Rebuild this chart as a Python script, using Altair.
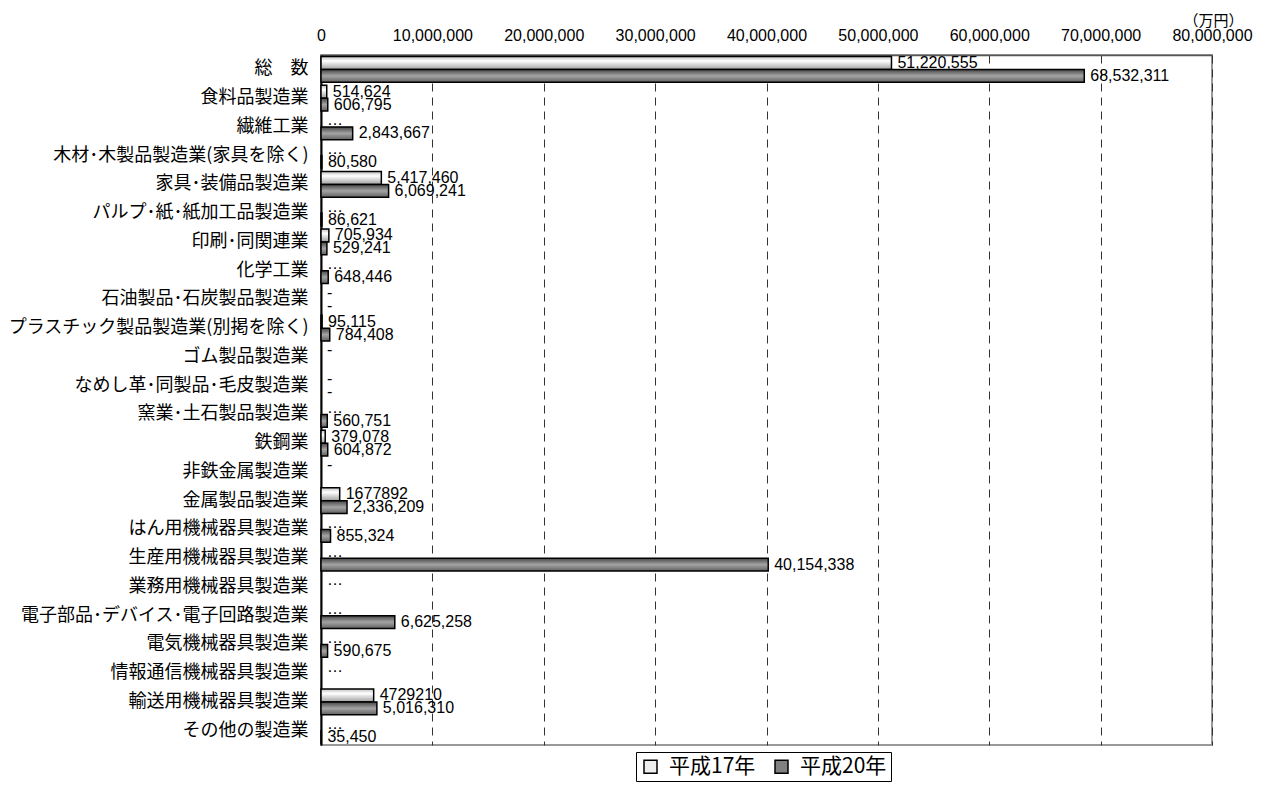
import altair as alt
import pandas as pd

categories = [
    "総　数", "食料品製造業", "繊維工業", "木材･木製品製造業(家具を除く)",
    "家具･装備品製造業", "パルプ･紙･紙加工品製造業", "印刷･同関連業", "化学工業",
    "石油製品･石炭製品製造業", "プラスチック製品製造業(別掲を除く)", "ゴム製品製造業",
    "なめし革･同製品･毛皮製造業", "窯業･土石製品製造業", "鉄鋼業", "非鉄金属製造業",
    "金属製品製造業", "はん用機械器具製造業", "生産用機械器具製造業", "業務用機械器具製造業",
    "電子部品･デバイス･電子回路製造業", "電気機械器具製造業", "情報通信機械器具製造業",
    "輸送用機械器具製造業", "その他の製造業",
]
series = ["平成17年", "平成20年"]

h17_values = [51220555, 514624, None, None, 5417460, None, 705934, None, None, 95115,
              None, None, None, 379078, None, 1677892, None, None, None, None, None, None,
              4729210, None]
h17_labels = ["51,220,555", "514,624", "…", "…", "5,417,460", "…", "705,934", "…", "-",
              "95,115", "-", "-", "…", "379,078", "-", "1677892", "…", "…", "…", "…", "…",
              "…", "4729210", "…"]
h20_values = [68532311, 606795, 2843667, 80580, 6069241, 86621, 529241, 648446, None,
              784408, None, None, 560751, 604872, None, 2336209, 855324, 40154338, None,
              6625258, 590675, None, 5016310, 35450]
h20_labels = ["68,532,311", "606,795", "2,843,667", "80,580", "6,069,241", "86,621",
              "529,241", "648,446", "-", "784,408", "", "-", "560,751", "604,872", "",
              "2,336,209", "855,324", "40,154,338", "", "6,625,258", "590,675", "",
              "5,016,310", "35,450"]

x_ticks = [0, 10000000, 20000000, 30000000, 40000000, 50000000, 60000000, 70000000, 80000000]

rows = []
for s, vals, labs in [(series[0], h17_values, h17_labels), (series[1], h20_values, h20_labels)]:
    for c, v, l in zip(categories, vals, labs):
        rows.append({"category": c, "series": s, "value": v, "label": l,
                     "xpos": v if v is not None else 0})
df = pd.DataFrame(rows)

PLOT_W, PLOT_H = 891, 690

y_enc = alt.Y("category:N", sort=categories,
              scale=alt.Scale(paddingInner=0.1, paddingOuter=0.05),
              axis=alt.Axis(title=None, labelFont="Noto Sans CJK JP", labelFontSize=18,
                            labelColor="black", labelPadding=13, ticks=False, tickSize=0,
                            domainColor="black", domainWidth=2, labelLimit=500))
x_enc = alt.X("xpos:Q",
              scale=alt.Scale(domain=[0, 80000000], nice=False),
              axis=alt.Axis(orient="top", values=x_ticks, format=",d",
                            labelFont="Liberation Sans", labelFontSize=16, labelColor="black",
                            labelPadding=12, ticks=False, tickSize=0,
                            domainColor="#555555", domainWidth=1.5,
                            grid=True, gridColor="#333333", gridDash=[8, 6], gridWidth=1,
                            title="（万円）", titleFont="Noto Sans CJK JP", titleFontSize=15,
                            titleFontWeight="normal", titleColor="black",
                            titleX=PLOT_W + 31, titleY=-30, titleAlign="right",
                            titleBaseline="alphabetic", labelFlush=False))
yoff = alt.YOffset("series:N", scale=alt.Scale(domain=series, paddingInner=0, paddingOuter=0))

grad17 = alt.Gradient(gradient="linear", x1=0, y1=0, x2=0, y2=1, stops=[
    alt.GradientStop(offset=0, color="#c0c0c0"),
    alt.GradientStop(offset=0.35, color="#ffffff"),
    alt.GradientStop(offset=1, color="#a0a0a0"),
])
grad20 = alt.Gradient(gradient="linear", x1=0, y1=0, x2=0, y2=1, stops=[
    alt.GradientStop(offset=0, color="#444444"),
    alt.GradientStop(offset=0.5, color="#a4a4a4"),
    alt.GradientStop(offset=1, color="#606060"),
])

base = alt.Chart(df)

bars17 = base.transform_filter(
    (alt.datum.series == series[0]) & (alt.datum.xpos > 0)
).mark_bar(fill=grad17, stroke="black", strokeWidth=1.5).encode(x=x_enc, y=y_enc, yOffset=yoff)

bars20 = base.transform_filter(
    (alt.datum.series == series[1]) & (alt.datum.xpos > 0)
).mark_bar(fill=grad20, stroke="black", strokeWidth=1.5).encode(x=x_enc, y=y_enc, yOffset=yoff)

labels = base.mark_text(align="left", baseline="middle", dx=6, font="Liberation Sans",
                        fontSize=16, color="black").encode(
    x=x_enc, y=y_enc, yOffset=yoff, text="label:N")

legend_layer = base.mark_square(opacity=0).encode(
    x=x_enc, y=y_enc,
    color=alt.Color("series:N", scale=alt.Scale(domain=series, range=["#eeeeee", "#808080"]),
                    legend=alt.Legend(title=None, orient="none", legendX=315,
                                      legendY=PLOT_H + 7, direction="horizontal",
                                      strokeColor="black", padding=4,
                                      labelFont="Noto Sans CJK JP", labelFontSize=21,
                                      labelColor="black", labelOffset=8, columnPadding=15,
                                      symbolType="square", symbolSize=169,
                                      symbolStrokeColor="black", symbolStrokeWidth=1.5,
                                      symbolOpacity=1)))

chart = alt.layer(bars17, bars20, labels, legend_layer).properties(
    width=PLOT_W, height=PLOT_H,
    autosize=alt.AutoSizeParams(type="none"),
    padding={"left": 313, "top": 47, "right": 44, "bottom": 41},
).configure_view(stroke="#999999", strokeWidth=2)

chart.save("out.html", embed_options={"renderer": "svg", "actions": False})
